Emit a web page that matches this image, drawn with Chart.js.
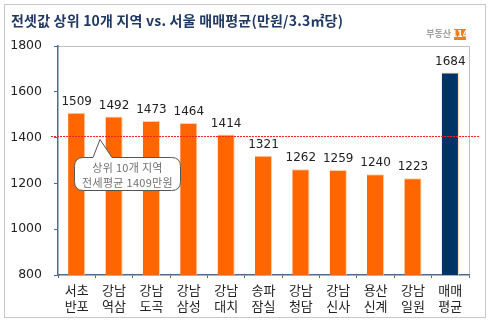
<!DOCTYPE html>
<html>
<head>
<meta charset="utf-8">
<script src="https://cdn.jsdelivr.net/npm/chart.js@4/dist/chart.umd.min.js"></script>
<style>
  body { margin: 0; background: #fff; }
  #wrap { width: 493px; height: 327px; position: relative; }
</style>
</head>
<body>
<div id="wrap"><canvas id="myChart" width="493" height="327"></canvas></div>
<script>
var regions = [
  ["서초", "반포"], ["강남", "역삼"], ["강남", "도곡"], ["강남", "삼성"], ["강남", "대치"],
  ["송파", "잠실"], ["강남", "청담"], ["강남", "신사"], ["용산", "신계"], ["강남", "일원"], ["매매", "평균"]
];
var prices = [1509, 1492, 1473, 1464, 1414, 1321, 1262, 1259, 1240, 1223, 1684];
var top10Avg = 1409;
var yTicks = [800, 1000, 1200, 1400, 1600, 1800];
var titleText = "전셋값 상위 10개 지역 vs. 서울 매매평균(만원/3.3㎡당)";
var calloutLines = ["상위 10개 지역", "전세평균 1409만원"];

var FONT = "'DejaVu Sans', 'Noto Sans CJK KR', sans-serif";
var KFONT = "'Noto Sans CJK KR', sans-serif";
var barColors = prices.map(function (v, i) {
  return i === prices.length - 1 ? "#003366" : "#FF6600";
});

var decor = {
  id: "decor",
  beforeDraw: function (chart) {
    var c = chart.ctx;
    c.save();
    c.fillStyle = "#fff";
    c.fillRect(0, 0, chart.width, chart.height);
    // outer frame
    c.strokeStyle = "#c8c8c8";
    c.lineWidth = 1;
    c.strokeRect(4.5, 4.5, 481, 313);
    // title
    c.fillStyle = "#1F3864";
    c.font = "bold 14px " + KFONT;
    c.textBaseline = "middle";
    c.letterSpacing = "0.2px";
    c.fillText(titleText, 11, 21);
    c.letterSpacing = "0px";
    // logo
    c.font = "bold 9px " + KFONT;
    c.fillStyle = "#a0a0a0";
    c.textAlign = "right";
    c.fillText("부동산", 451, 34);
    c.fillStyle = "#F07F1E";
    c.fillRect(454, 29, 12, 11);
    c.fillStyle = "#fff";
    c.font = "bold 8px " + FONT;
    c.textAlign = "center";
    c.fillText("114", 460, 34.5);
    // plot frame (top + right)
    var a = chart.chartArea;
    c.strokeStyle = "#c0c0c0";
    c.beginPath();
    c.moveTo(a.left, a.top + 0.5);
    c.lineTo(a.right + 0.5, a.top + 0.5);
    c.lineTo(a.right + 0.5, a.bottom);
    c.stroke();
    c.restore();
  },
  afterDatasetsDraw: function (chart) {
    var c = chart.ctx;
    var y = chart.scales.y;
    var meta = chart.getDatasetMeta(0);
    c.save();
    // value labels
    c.fillStyle = "#222";
    c.font = "12px " + FONT;
    c.textAlign = "center";
    c.textBaseline = "bottom";
    meta.data.forEach(function (bar, i) {
      c.fillText(String(prices[i]), bar.x, bar.y - 5);
    });
    // dotted average line
    var ly = Math.round(y.getPixelForValue(top10Avg)) + 0.5;
    c.strokeStyle = "#FF2020";
    c.setLineDash([2, 1]);
    c.lineWidth = 1;
    c.beginPath();
    c.moveTo(51, ly);
    c.lineTo(480, ly);
    c.stroke();
    c.setLineDash([]);
    // callout
    var bx = 74.5, by = 157.5, bw = 106, bh = 33, r = 9;
    var tipX = 100, tipY = ly + 3;
    c.beginPath();
    c.moveTo(bx + r, by);
    c.lineTo(93, by);
    c.lineTo(tipX, tipY);
    c.lineTo(112, by);
    c.lineTo(bx + bw - r, by);
    c.quadraticCurveTo(bx + bw, by, bx + bw, by + r);
    c.lineTo(bx + bw, by + bh - r);
    c.quadraticCurveTo(bx + bw, by + bh, bx + bw - r, by + bh);
    c.lineTo(bx + r, by + bh);
    c.quadraticCurveTo(bx, by + bh, bx, by + bh - r);
    c.lineTo(bx, by + r);
    c.quadraticCurveTo(bx, by, bx + r, by);
    c.closePath();
    c.fillStyle = "#fff";
    c.fill();
    c.strokeStyle = "#555";
    c.stroke();
    c.fillStyle = "#707070";
    c.font = "11px " + KFONT;
    c.textAlign = "center";
    c.textBaseline = "middle";
    c.letterSpacing = "0.3px";
    c.fillText(calloutLines[0], bx + bw / 2, by + 10);
    c.fillText(calloutLines[1], bx + bw / 2, by + 25);
    c.restore();
  }
};

var ctx = document.getElementById("myChart").getContext("2d");
var chart = new Chart(ctx, {
  type: "bar",
  data: {
    labels: regions,
    datasets: [
      {
        data: prices,
        backgroundColor: barColors,
        borderColor: "#FFD0A8",
        borderWidth: { left: 0, right: 1, top: 1, bottom: 0 },
        categoryPercentage: 1,
        barPercentage: 0.46
      }
    ]
  },
  options: {
    responsive: false,
    animation: false,
    layout: { padding: { top: 46, right: 24, bottom: 8, left: 0 } },
    plugins: { legend: { display: false }, tooltip: { enabled: false } },
    scales: {
      y: {
        min: 800,
        max: 1800,
        afterFit: function (s) { s.width = 58; },
        afterBuildTicks: function (s) {
          s.ticks = yTicks.map(function (v) { return { value: v }; });
        },
        border: { color: "#4F6A8A", width: 1.5 },
        grid: { drawOnChartArea: false, tickLength: 4, color: "#4F6A8A" },
        ticks: {
          color: "#222",
          font: { family: FONT, size: 12.5 },
          padding: 12,
          callback: function (v) { return String(v); }
        }
      },
      x: {
        afterFit: function (s) { s.height = 44; },
        border: { color: "#4F6A8A", width: 1.5 },
        grid: { drawOnChartArea: false, offset: true, tickLength: 3, color: "#4F6A8A" },
        ticks: { color: "#222", font: { family: KFONT, size: 13, lineHeight: 1.25 }, padding: 4, maxRotation: 0 }
      }
    }
  },
  plugins: [decor]
});
</script>
</body>
</html>
